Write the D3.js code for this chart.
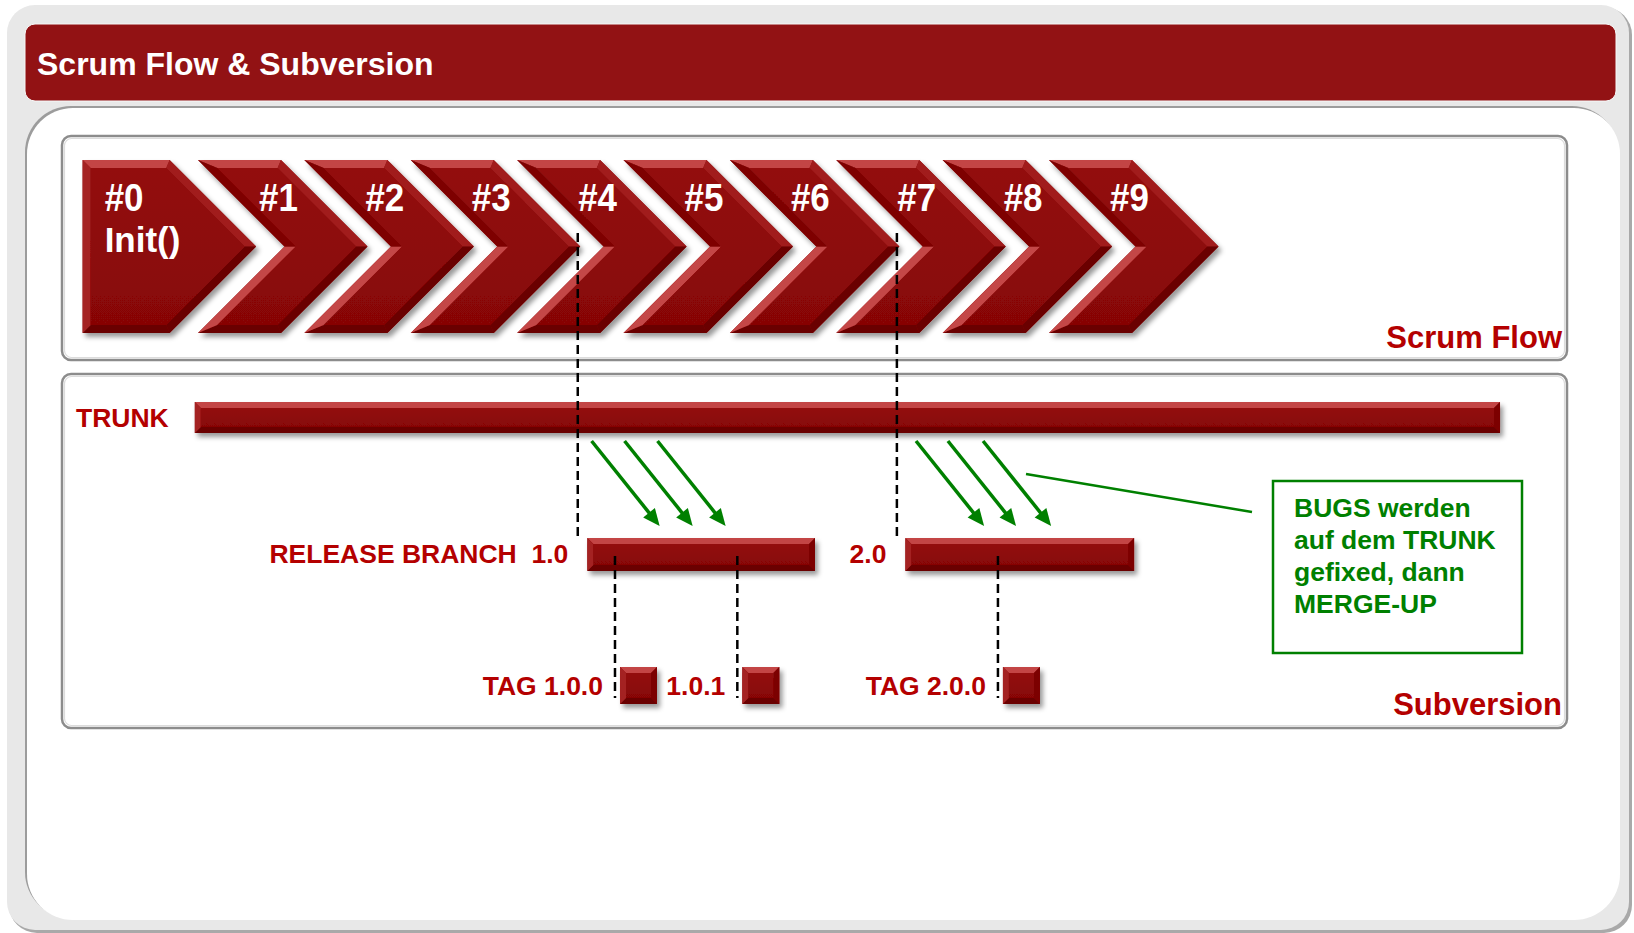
<!DOCTYPE html>
<html>
<head>
<meta charset="utf-8">
<script src="https://cdn.jsdelivr.net/npm/d3@7"></script>
<style>
  body { margin: 0; background: #ffffff; }
  svg { display: block; font-family: "Liberation Sans", Arial, sans-serif; font-weight: bold; }
</style>
</head>
<body>
<svg></svg>
<script>
// sprints in the scrum flow
const sprintLabels = ["#0", "#1", "#2", "#3", "#4", "#5", "#6", "#7", "#8", "#9"]
const sprintNotes = ["Init()", "", "", "", "", "", "", "", "", ""]

// subversion timeline, all in sprint units
const trunkSpan = [0.97, 13.24]
const releaseNames = ["1.0", "2.0"]
const releaseLabels = ["RELEASE BRANCH  1.0", "2.0"]
const releaseCuts = [4.57, 7.57]   // where the branch is taken off the trunk
const releaseStarts = [4.66, 7.65]
const releaseEnds = [6.80, 9.80]

const tagNames = ["TAG 1.0.0", "1.0.1", "TAG 2.0.0"]
const tagTimes = [4.92, 6.07, 8.52]

// bug fixes merged up from trunk to the release branches
const mergeRelease = ["1.0", "1.0", "1.0", "2.0", "2.0", "2.0"]
const mergeStarts = [4.70, 5.01, 5.32, 7.75, 8.05, 8.38]
const mergeLag = 0.64

const noteLines = ["BUGS werden", "auf dem TRUNK", "gefixed, dann", "MERGE-UP"]

const W = 1634, H = 933
const red = "#b40000", green = "#008000"

const svg = d3.select("svg")
  .attr("width", W)
  .attr("height", H)

// sprint index -> x of the chevron's left edge
const x = d3.scaleLinear()
  .domain([1, 9])
  .range([198, 1049])

// drop shadow for the 3d shapes
const defs = svg.append("defs")
defs.append("filter")
  .attr("id", "shadow")
  .attr("x", "-10%").attr("y", "-10%")
  .attr("width", "130%").attr("height", "140%")
  .append("feDropShadow")
  .attr("dx", 3).attr("dy", 4)
  .attr("stdDeviation", 2.5)
  .attr("flood-color", "#000")
  .attr("flood-opacity", 0.4)

// ---- frame ----
svg.append("rect") // shadow edge of the grey panel
  .attr("x", 9).attr("y", 7)
  .attr("width", W - 11).attr("height", H - 7)
  .attr("rx", 28)
  .attr("fill", "#a9a9a9")
svg.append("rect")
  .attr("x", 7).attr("y", 5)
  .attr("width", W - 12).attr("height", H - 8)
  .attr("rx", 28)
  .attr("fill", "#e8e8e8")

svg.append("rect") // header
  .attr("x", 25).attr("y", 24)
  .attr("width", 1591).attr("height", 77)
  .attr("rx", 10)
  .attr("fill", "#921214")
  .attr("stroke", "#f7f7f7")
  .attr("stroke-width", 1)
svg.append("text")
  .attr("x", 37).attr("y", 75)
  .attr("fill", "#ffffff")
  .attr("font-size", 32)
  .text("Scrum Flow & Subversion")

svg.append("rect") // inset edge of white panel
  .attr("x", 25).attr("y", 106)
  .attr("width", 1593).attr("height", 812)
  .attr("rx", 46)
  .attr("fill", "#9c9c9c")
svg.append("rect")
  .attr("x", 27).attr("y", 108)
  .attr("width", 1593).attr("height", 812)
  .attr("rx", 46)
  .attr("fill", "#ffffff")

// the two boxes
const boxes = [
  { y: 136, h: 224, label: "Scrum Flow", base: 348 },
  { y: 374, h: 354, label: "Subversion", base: 715 }
]
boxes.forEach(b => {
  svg.append("rect")
    .attr("x", 62).attr("y", b.y)
    .attr("width", 1505).attr("height", b.h)
    .attr("rx", 9)
    .attr("fill", "#ffffff")
    .attr("stroke", "#8c8c8c")
    .attr("stroke-width", 2.5)
  svg.append("rect")
    .attr("x", 64.5).attr("y", b.y + 2.5)
    .attr("width", 1500).attr("height", b.h - 5)
    .attr("rx", 7)
    .attr("fill", "none")
    .attr("stroke", "#dcdcdc")
    .attr("stroke-width", 1.2)
  svg.append("text")
    .attr("x", 1562).attr("y", b.base)
    .attr("text-anchor", "end")
    .attr("fill", red)
    .attr("font-size", 31)
    .text(b.label)
})

// ---- bevelled shape helper ----
const face = "#8b0707"
const lightCol = "#cf5252", darkCol = "#4a0000"
const light = [-0.45, -1]
const lLen = Math.hypot(light[0], light[1])

function inset(pts, b) {
  const n = pts.length
  const lines = pts.map((p, i) => {
    const q = pts[(i + 1) % n]
    const dx = q[0] - p[0], dy = q[1] - p[1]
    const len = Math.hypot(dx, dy)
    const nx = -dy / len, ny = dx / len
    return { p: [p[0] + nx * b, p[1] + ny * b], d: [dx, dy], n: [nx, ny] }
  })
  const inner = pts.map((p, i) => {
    const l1 = lines[(i - 1 + n) % n], l2 = lines[i]
    const cr = l1.d[0] * l2.d[1] - l1.d[1] * l2.d[0]
    const t = ((l2.p[0] - l1.p[0]) * l2.d[1] - (l2.p[1] - l1.p[1]) * l2.d[0]) / cr
    return [l1.p[0] + t * l1.d[0], l1.p[1] + t * l1.d[1]]
  })
  return { inner, lines }
}

function bevel(g, pts, b) {
  const { inner, lines } = inset(pts, b)
  const n = pts.length
  const grp = g.append("g").attr("filter", "url(#shadow)")
  grp.append("polygon")
    .attr("points", pts.map(p => p.join(",")).join(" "))
    .attr("fill", face)
  lines.forEach((l, i) => {
    const s = (-l.n[0] * light[0] - l.n[1] * light[1]) / lLen
    const col = s > 0 ? d3.interpolateRgb(face, lightCol)(s * 0.9) : d3.interpolateRgb(face, darkCol)(-s * 0.55)
    const quad = [pts[i], pts[(i + 1) % n], inner[(i + 1) % n], inner[i]]
    grp.append("polygon")
      .attr("points", quad.map(p => p.join(",")).join(" "))
      .attr("fill", col)
  })
  grp.append("polygon")
    .attr("points", inner.map(p => p.join(",")).join(" "))
    .attr("fill", "url(#faceGrad)")
  return grp
}

const fg = defs.append("linearGradient")
  .attr("id", "faceGrad")
  .attr("x1", 0).attr("y1", 0).attr("x2", 0).attr("y2", 1)
fg.append("stop").attr("offset", "0%").attr("stop-color", "#930b0b")
fg.append("stop").attr("offset", "100%").attr("stop-color", "#870606")

// ---- scrum flow chevrons ----
const chevTop = 160, chevBot = 333
const chevMid = (chevTop + chevBot) / 2
const depth = (chevBot - chevTop) / 2

// white labels, a little narrow in the original
const label = (g, tx, ty, txt, size, sx) => g.append("text")
  .attr("transform", `translate(${tx},${ty}) scale(${sx},1)`)
  .attr("fill", "#ffffff")
  .attr("font-size", size)
  .text(txt)

const chevrons = svg.append("g")
sprintLabels.forEach((lab, i) => {
  const first = i === 0
  const left = first ? x(0) - 9 : x(i)
  const w = first ? 87 : 83
  const pts = first
    ? [[left, chevTop], [left + w, chevTop], [left + w + depth, chevMid], [left + w, chevBot], [left, chevBot]]
    : [[left, chevTop], [left + w, chevTop], [left + w + depth, chevMid], [left + w, chevBot], [left, chevBot], [left + depth, chevMid]]
  bevel(chevrons, pts, 8)
  label(chevrons, first ? left + 22 : left + 61, 211, lab, 38, 0.92)
  if (sprintNotes[i]) label(chevrons, left + 22, 252, sprintNotes[i], 35, 1)
})

// ---- subversion ----
const trunkY = 402, trunkH = 31
const relY = 538, relH = 33
const tagY = 667, tagS = 37

const svn = svg.append("g")

bevel(svn, [[x(trunkSpan[0]), trunkY], [x(trunkSpan[1]), trunkY], [x(trunkSpan[1]), trunkY + trunkH], [x(trunkSpan[0]), trunkY + trunkH]], 6)
svn.append("text")
  .attr("x", 76).attr("y", 427)
  .attr("fill", red)
  .attr("font-size", 26.5)
  .text("TRUNK")

releaseNames.forEach((r, i) => {
  const x0 = x(releaseStarts[i]), x1 = x(releaseEnds[i])
  bevel(svn, [[x0, relY], [x1, relY], [x1, relY + relH], [x0, relY + relH]], 6)
  svn.append("text")
    .attr("x", x0 - 19).attr("y", 563)
    .attr("text-anchor", "end")
    .attr("fill", red)
    .attr("font-size", 26.5)
    .style("white-space", "pre")
    .text(releaseLabels[i])
})

tagNames.forEach((t, i) => {
  const tx = x(tagTimes[i]) + 5
  bevel(svn, [[tx, tagY], [tx + tagS, tagY], [tx + tagS, tagY + tagS], [tx, tagY + tagS]], 6)
  svn.append("text")
    .attr("x", tx - 17).attr("y", 695)
    .attr("text-anchor", "end")
    .attr("fill", red)
    .attr("font-size", 26.5)
    .text(t)
})

// dashed guide lines
const dash = svg.append("g")
  .attr("stroke", "#000")
  .attr("stroke-width", 2.5)
  .attr("stroke-dasharray", "9,5")
releaseCuts.forEach(c => {
  dash.append("line")
    .attr("x1", x(c)).attr("x2", x(c))
    .attr("y1", 233).attr("y2", 541)
})
tagTimes.forEach(t => {
  dash.append("line")
    .attr("x1", x(t)).attr("x2", x(t))
    .attr("y1", 556).attr("y2", 698)
})

// merge-up arrows
const arrows = svg.append("g")
mergeStarts.forEach((m, i) => {
  const x1 = x(m), y1 = 441
  const x2 = x(m + mergeLag), y2 = 526
  const dx = x2 - x1, dy = y2 - y1
  const len = Math.hypot(dx, dy)
  const ux = dx / len, uy = dy / len
  const hl = 17, hw = 7.5
  const bx = x2 - ux * hl, by = y2 - uy * hl
  arrows.append("line")
    .attr("x1", x1).attr("y1", y1)
    .attr("x2", bx + ux * 2).attr("y2", by + uy * 2)
    .attr("stroke", green)
    .attr("stroke-width", 3.5)
  arrows.append("polygon")
    .attr("points", [[x2, y2], [bx - uy * hw, by + ux * hw], [bx + uy * hw, by - ux * hw]].map(p => p.join(",")).join(" "))
    .attr("fill", green)
})

// callout
svg.append("line")
  .attr("x1", 1026).attr("y1", 474)
  .attr("x2", 1252).attr("y2", 512)
  .attr("stroke", green)
  .attr("stroke-width", 2.5)
svg.append("rect")
  .attr("x", 1273).attr("y", 481)
  .attr("width", 249).attr("height", 172)
  .attr("fill", "#ffffff")
  .attr("stroke", green)
  .attr("stroke-width", 2.5)
svg.append("g")
  .selectAll("text")
  .data(noteLines)
  .enter()
  .append("text")
  .attr("x", 1294)
  .attr("y", (d, i) => 517 + i * 32)
  .attr("fill", green)
  .attr("font-size", 26.5)
  .text(d => d)
</script>
</body>
</html>
